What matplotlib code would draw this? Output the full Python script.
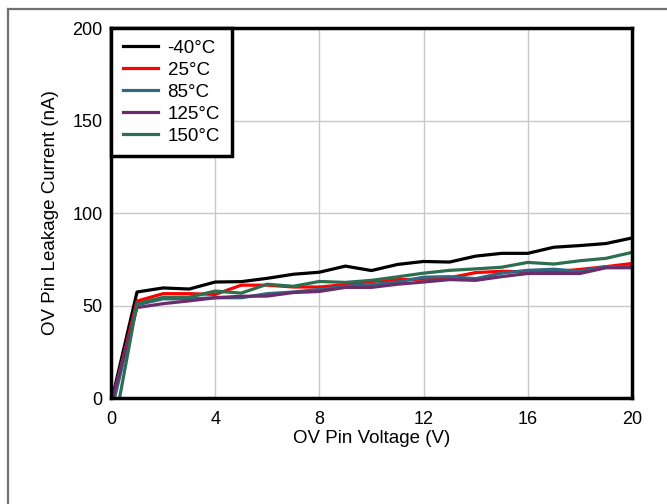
import matplotlib
matplotlib.use("Agg")
import matplotlib.pyplot as plt
from matplotlib.lines import Line2D

plt.rcParams['font.family'] = ['Liberation Sans', 'DejaVu Sans']

# Donnees
voltage = list(range(0, 21))
leak_m40 = [-3, 57.3, 59.5, 58.9, 62.7, 62.9, 64.7, 66.9, 68.0, 71.3, 68.9,
            72.2, 73.8, 73.5, 76.7, 78.2, 78.2, 81.5, 82.4, 83.5, 86.5]
leak_25 = [-5, 52.4, 56.4, 56.4, 56.0, 61.0, 61.0, 60.0, 60.0, 61.3, 63.0,
           64.0, 64.2, 65.0, 67.8, 68.5, 68.2, 68.2, 69.5, 71.0, 72.7]
leak_85 = [-8, 50.4, 53.6, 53.6, 54.2, 54.2, 56.4, 57.3, 58.7, 60.4, 61.3,
           62.7, 65.3, 65.6, 64.5, 67.5, 69.0, 69.6, 68.5, 71.0, 71.0]
leak_125 = [-3, 48.9, 51.0, 52.5, 54.2, 55.0, 55.1, 57.0, 57.6, 59.8, 59.8,
            61.5, 62.7, 64.0, 63.6, 65.6, 67.3, 67.3, 67.3, 70.4, 70.4]
leak_150 = [-25, 51.0, 54.4, 54.5, 57.8, 56.7, 61.5, 60.4, 63.0, 62.5, 63.6,
            65.5, 67.5, 69.0, 69.8, 70.7, 73.3, 72.4, 74.2, 75.5, 78.7]

labels = ["-40°C", "25°C", "85°C", "125°C", "150°C"]
series = [leak_m40, leak_25, leak_85, leak_125, leak_150]
colors = ["#000000", "#FF0000", "#336680", "#6A2C6A", "#2E6E50"]

fig = plt.figure(figsize=(6.67, 5.04), dpi=100)
ax = fig.add_axes([0.1664, 0.2103, 0.781, 0.7341])

for vals, lab, col in zip(series, labels, colors):
    ax.plot(voltage, vals, color=col, lw=2.3, label=lab)

ax.set_xlim(0, 20)
ax.set_ylim(0, 200)
ax.set_xticks([0, 4, 8, 12, 16, 20])
ax.set_yticks([0, 50, 100, 150, 200])
ax.tick_params(length=0, labelsize=13)
ax.tick_params(axis="y", pad=6)
ax.tick_params(axis="x", pad=9)
ax.grid(True, color="#c8c8c8", lw=1)
ax.set_axisbelow(True)
for s in ax.spines.values():
    s.set_linewidth(2.5)
    s.set_zorder(5)

ax.set_xlabel("OV Pin Voltage (V)", fontsize=13.5, labelpad=2)
ax.set_ylabel("OV Pin Leakage Current (nA)", fontsize=13.5, labelpad=10)

leg = ax.legend(loc="upper left", fontsize=13.5, fancybox=False, framealpha=1,
                edgecolor="black", borderaxespad=0, handlelength=1.9,
                handletextpad=0.5, labelspacing=0.26, borderpad=0.62)
leg.get_frame().set_linewidth(2.5)

# cadre gris de la figure
fig.add_artist(Line2D([0.0125, 1], [0.983, 0.983], color="#707070", lw=1.6))
fig.add_artist(Line2D([0.0125, 0.0125], [0, 0.983], color="#707070", lw=1.6))

fig.savefig("out.png", dpi=100)
